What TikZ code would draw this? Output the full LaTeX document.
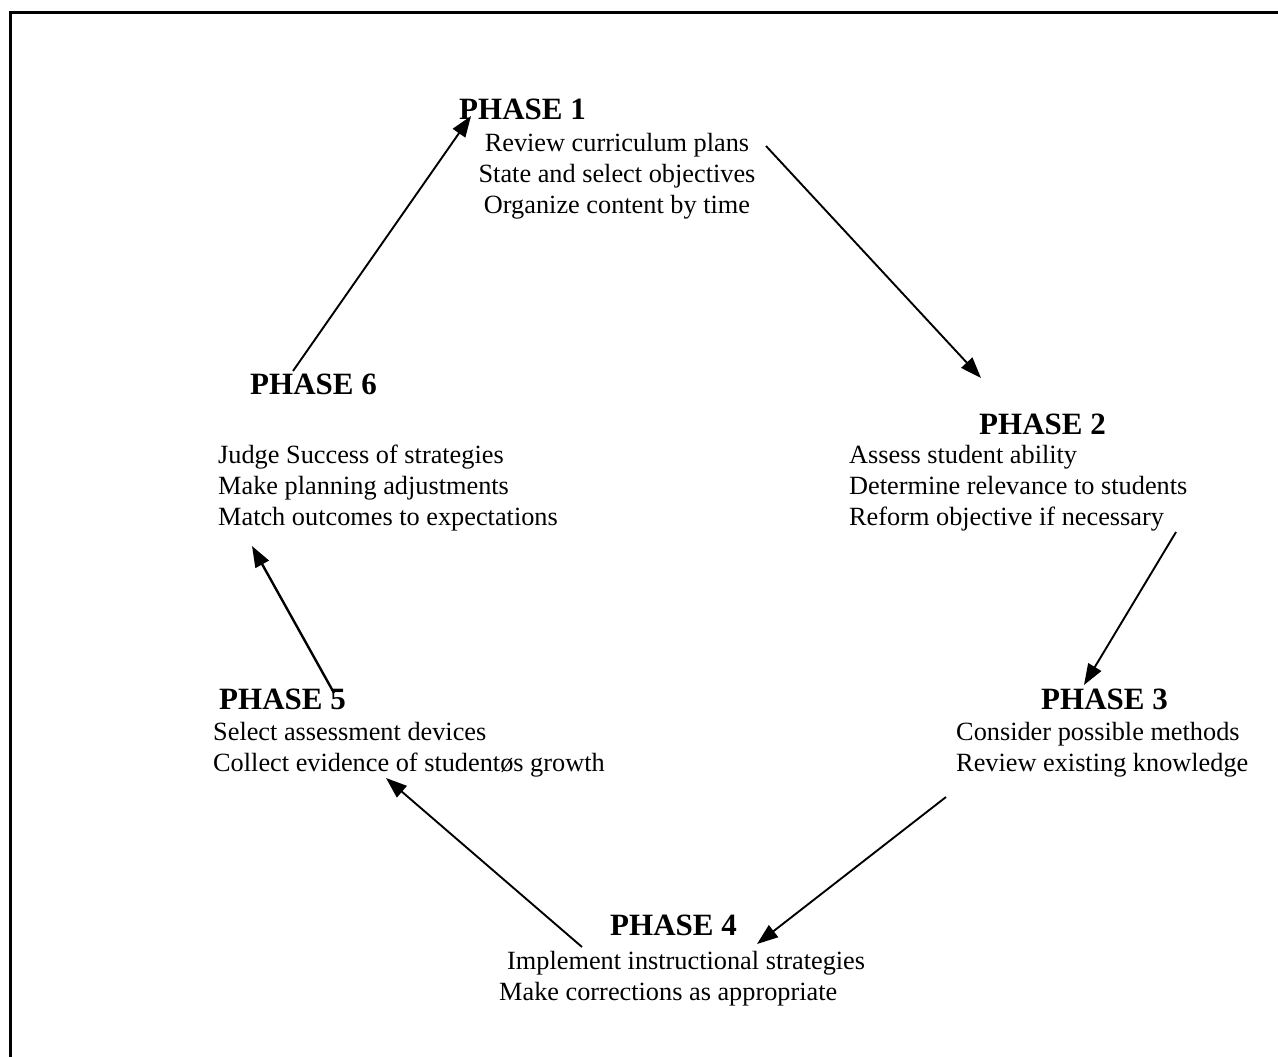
\documentclass[tikz,border=0pt]{standalone}
\usepackage{fontspec}
\setmainfont{Liberation Serif}
\usetikzlibrary{arrows.meta}

\tikzset{
  phase/.style={anchor=base west, inner sep=0pt, font=\fontsize{31}{36}\selectfont\bfseries},
  steps/.style={anchor=base west, inner sep=0pt, align=left, font=\fontsize{26.3}{31}\selectfont},
  flow/.style={line width=1.9pt, -{Triangle[length=21pt,width=15pt]}}
}

\begin{document}
\begin{tikzpicture}[x=1pt,y=-1pt]
    \useasboundingbox (0,0) rectangle (1278,1057);

    % frame
    \draw[line width=3pt] (10.5,1070) -- (10.5,13) -- (1290,13);

    % Phase headings
    \node[phase] (p1) at (459,120) {PHASE 1};
    \node[phase] (p2) at (979,434) {PHASE 2};
    \node[phase] (p3) at (1041,709) {PHASE 3};
    \node[phase] (p4) at (610,935) {PHASE 4};
    \node[phase] (p5) at (219,709) {PHASE 5};
    \node[phase] (p6) at (250,394) {PHASE 6};

    % Phase tasks (base = last line)
    \node[steps, anchor=base, align=center] (t1) at (617,213)
        {Review curriculum plans\\State and select objectives\\Organize content by time};
    \node[steps] (t2) at (849,525)
        {Assess student ability\\Determine relevance to students\\Reform objective if necessary};
    \node[steps] (t3) at (956,771)
        {Consider possible methods\\Review existing knowledge};
    \node[steps] (t4) at (499,1000)
        {\hspace*{8pt}Implement instructional strategies\\Make corrections as appropriate};
    \node[steps] (t5) at (213,771)
        {Select assessment devices\\Collect evidence of student\o s growth};
    \node[steps] (t6) at (218,525)
        {Judge Success of strategies\\Make planning adjustments\\Match outcomes to expectations};

    % arrow ends
    \coordinate (a1) at (766,146);
    \coordinate (b1) at (981,378);
    \coordinate (a2) at (1176,532);
    \coordinate (b2) at (1084,685);
    \coordinate (a3) at (946,797);
    \coordinate (b3) at (757,944);
    \coordinate (a4) at (582,947);
    \coordinate (b4) at (386,778);
    \coordinate (a5) at (334,693);
    \coordinate (b5) at (252,546);
    \coordinate (a6) at (293,371);
    \coordinate (b6) at (471,116);

    % Cycle
    \draw[flow] (a1) -- (b1);
    \draw[flow] (a2) -- (b2);
    \draw[flow] (a3) -- (b3);
    \draw[flow] (a4) -- (b4);
    \draw[flow, line width=2.4pt] (a5) -- (b5);
    \draw[flow] (a6) -- (b6);

\end{tikzpicture}
\end{document}
